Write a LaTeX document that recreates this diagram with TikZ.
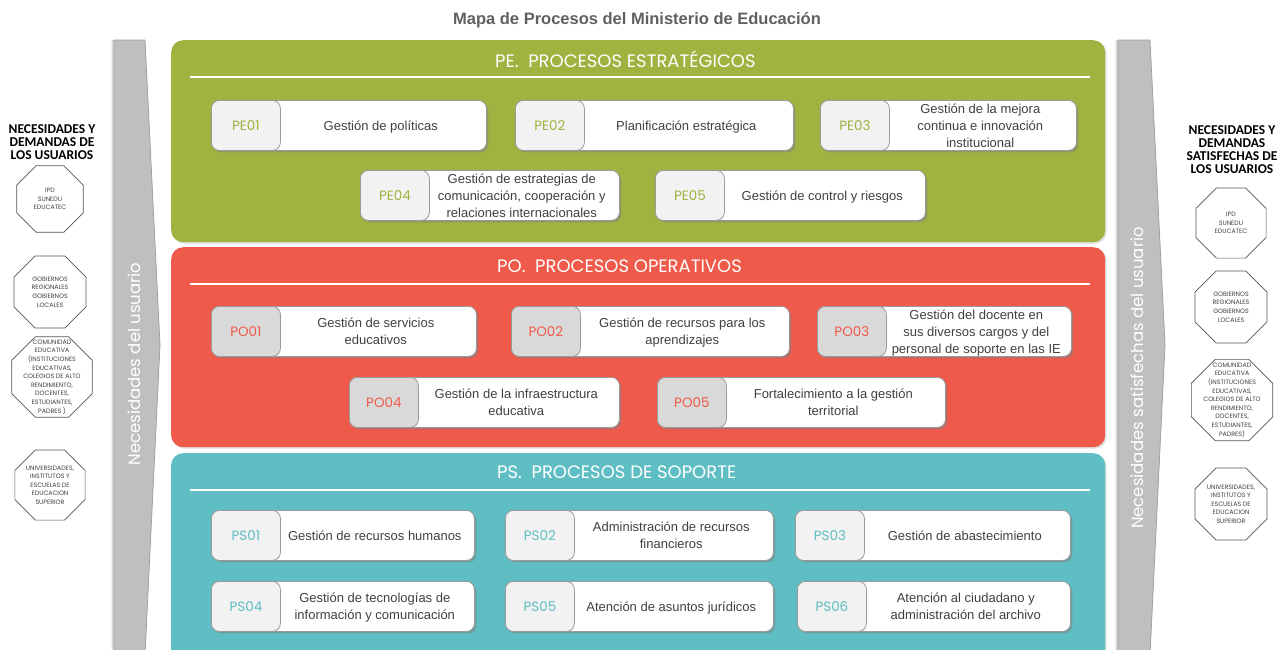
\documentclass[tikz,border=0pt]{standalone}
\usepackage{fontspec}
\setmainfont{Liberation Sans}
\newfontfamily\popfont{Poppins}
\newfontfamily\calfont{Carlito}
\usetikzlibrary{shapes.geometric,shadows,calc}
\definecolor{pegreen}{HTML}{A0B240}
\definecolor{pored}{HTML}{F05A4B}
\definecolor{psteal}{HTML}{5FBEC3}
\definecolor{boxgray}{HTML}{9A9A9A}
\definecolor{txtgray}{HTML}{404040}
\definecolor{titgray}{HTML}{606060}
\definecolor{arrgray}{HTML}{BFBFBF}
\definecolor{arredge}{HTML}{A0A0A0}
\definecolor{codelight}{HTML}{F2F2F2}
\definecolor{codedark}{HTML}{D9D9D9}
\definecolor{octgray}{HTML}{555555}
\newcommand\mystrut{\rule[-3.5pt]{0pt}{17pt}}
\newcommand\procbox[8]{%
  \node[wbox, minimum width={#3-#2}, anchor=north west] (#1) at (#2,#4) {};
  \node[cbox, fill=#7, text=#8, anchor=north west] (#1c) at (#2,#4) {#5};
  \node[ptext] (#1t) at ($(#1c.east)!0.5!(#1.east)$) {\mystrut#6\mystrut};
}
\begin{document}
\begin{tikzpicture}[x=1pt,y=-1pt,
  panel/.style={draw=none, rounded corners=12pt, anchor=north west, minimum width=934, inner sep=0,
    drop shadow={shadow xshift=1.5pt, shadow yshift=-1.5pt, opacity=0.25}},
  wbox/.style={draw=boxgray, fill=white, rounded corners=8pt, line width=0.8pt, minimum height=50, inner sep=0,
    drop shadow={shadow xshift=2pt, shadow yshift=-2pt, opacity=0.5}},
  cbox/.style={draw=boxgray, rounded corners=8pt, line width=0.8pt, minimum width=69, minimum height=50, inner sep=0,
    font=\popfont\fontsize{13.5}{15}\selectfont},
  ptext/.style={align=center, font=\fontsize{13}{17}\selectfont, text=txtgray, inner sep=0, xshift=-3pt},
  hdr/.style={text=white, anchor=west, inner sep=0, font=\popfont\fontsize{18}{20}\selectfont},
  hline/.style={white, line width=2.5pt},
  oct/.style={regular polygon, regular polygon sides=8, draw=octgray, line width=0.7pt, fill=white, inner sep=0},
  octtext/.style={align=center, inner sep=0, font=\popfont\fontsize{6.3}{8.6}\selectfont, text=txtgray},
  sidehead/.style={align=center, inner sep=0, font=\calfont\bfseries\fontsize{13.5}{13}\selectfont, text=black},
  sidetext/.style={text=white, rotate=90, inner sep=0, font=\popfont\fontsize{16.5}{19}\selectfont},
  arrowshape/.style={fill=arrgray, draw=arredge, line width=0.8pt,
    drop shadow={shadow xshift=-2.5pt, shadow yshift=0pt, opacity=0.3}}
]
\useasboundingbox (0,0) rectangle (1278,649);
\clip (0,0) rectangle (1278,649);
\fill[white] (0,0) rectangle (1278,649);

% title
\node[font=\bfseries\fontsize{16.5}{19}\selectfont, text=titgray] (title) at (637,20) {Mapa de Procesos del Ministerio de Educación};

% side arrows
\path[arrowshape] (114,40) -- (145,40) -- (160,345) -- (145,655) -- (114,655) -- cycle;
\node[sidetext] (leftlab) at (134,364) {Necesidades del usuario};
\path[arrowshape] (1118,40) -- (1150,40) -- (1165,345) -- (1150,655) -- (1118,655) -- cycle;
\node[sidetext] (rightlab) at (1137,378) {Necesidades satisfechas del usuario};

% panels
\node[panel, fill=pegreen, minimum height=202] (pe) at (171,40) {};
\node[panel, fill=pored, minimum height=200] (po) at (171,247) {};
\node[panel, fill=psteal, minimum height=220] (ps) at (171,453) {};

\node[hdr] (pehdr) at (495,59) {PE.\ \ PROCESOS ESTRATÉGICOS};
\draw[hline] (190,77) -- (1090,77);
\node[hdr] (pohdr) at (497,266) {PO.\ \ PROCESOS OPERATIVOS};
\draw[hline] (190,284) -- (1090,284);
\node[hdr] (pshdr) at (497,472) {PS.\ \ PROCESOS DE SOPORTE};
\draw[hline] (190,490) -- (1090,490);

% PE boxes
\procbox{pe1}{211}{486}{100}{PE01}{Gestión de políticas}{codelight}{pegreen}
\procbox{pe2}{515}{793}{100}{PE02}{Planificación estratégica}{codelight}{pegreen}
\procbox{pe3}{820}{1076}{100}{PE03}{Gestión de la mejora\\continua e innovación\\institucional}{codelight}{pegreen}
\procbox{pe4}{360}{619}{170}{PE04}{Gestión de estrategias de\\comunicación, cooperación y\\relaciones internacionales}{codelight}{pegreen}
\procbox{pe5}{655}{925}{170}{PE05}{Gestión de control y riesgos}{codelight}{pegreen}

% PO boxes
\procbox{po1}{211}{476}{306}{PO01}{Gestión de servicios\\educativos}{codedark}{pored}
\procbox{po2}{511}{789}{306}{PO02}{Gestión de recursos para los\\aprendizajes}{codedark}{pored}
\procbox{po3}{817}{1071}{306}{PO03}{Gestión del docente en\\sus diversos cargos y del\\personal de soporte en las IE}{codedark}{pored}
\procbox{po4}{349}{619}{377}{PO04}{Gestión de la infraestructura\\educativa}{codedark}{pored}
\procbox{po5}{657}{945}{377}{PO05}{Fortalecimiento a la gestión\\territorial}{codedark}{pored}

% PS boxes
\procbox{ps1}{211}{474}{510}{PS01}{Gestión de recursos humanos}{codelight}{psteal}
\procbox{ps2}{505}{773}{510}{PS02}{Administración de recursos\\financieros}{codelight}{psteal}
\procbox{ps3}{795}{1070}{510}{PS03}{Gestión de abastecimiento}{codelight}{psteal}
\procbox{ps4}{211}{474}{581}{PS04}{Gestión de tecnologías de\\información y comunicación}{codelight}{psteal}
\procbox{ps5}{505}{773}{581}{PS05}{Atención de asuntos jurídicos}{codelight}{psteal}
\procbox{ps6}{797}{1070}{581}{PS06}{Atención al ciudadano y\\administración del archivo}{codelight}{psteal}

% left column
\node[sidehead] (lhead) at (52,142) {NECESIDADES Y\\DEMANDAS DE\\LOS USUARIOS};
\node[oct, minimum size=72] (l1) at (50,199) {};
\node[octtext] (l1t) at (l1.center) {IPD\\SUNEDU\\EDUCATEC};
\node[oct, minimum size=78] (l2) at (50,292) {};
\node[octtext] (l2t) at (l2.center) {GOBIERNOS\\REGIONALES\\GOBIERNOS\\LOCALES};
\node[oct, minimum size=87] (l3) at (52,377) {};
\node[octtext] (l3t) at (l3.center) {COMUNIDAD\\EDUCATIVA\\(INSTITUCIONES\\EDUCATIVAS,\\COLEGIOS DE ALTO\\RENDIMIENTO,\\DOCENTES,\\ESTUDIANTES,\\PADRES )};
\node[oct, minimum size=76] (l4) at (50,485) {};
\node[octtext] (l4t) at (l4.center) {UNIVERSIDADES,\\INSTITUTOS Y\\ESCUELAS DE\\EDUCACION\\SUPERIOR};

% right column
\node[sidehead] (rhead) at (1232,150) {NECESIDADES Y\\DEMANDAS\\SATISFECHAS DE\\LOS USUARIOS};
\node[oct, minimum size=76] (r1) at (1231,223) {};
\node[octtext] (r1t) at (r1.center) {IPD\\SUNEDU\\EDUCATEC};
\node[oct, minimum size=78] (r2) at (1231,307) {};
\node[octtext] (r2t) at (r2.center) {GOBIERNOS\\REGIONALES\\GOBIERNOS\\LOCALES};
\node[oct, minimum size=88] (r3) at (1232,400) {};
\node[octtext] (r3t) at (r3.center) {COMUNIDAD\\EDUCATIVA\\(INSTITUCIONES\\EDUCATIVAS,\\COLEGIOS DE ALTO\\RENDIMIENTO,\\DOCENTES,\\ESTUDIANTES,\\PADRES)};
\node[oct, minimum size=78] (r4) at (1231,504) {};
\node[octtext] (r4t) at (r4.center) {UNIVERSIDADES,\\INSTITUTOS Y\\ESCUELAS DE\\EDUCACION\\SUPERIOR};
\end{tikzpicture}
\end{document}
